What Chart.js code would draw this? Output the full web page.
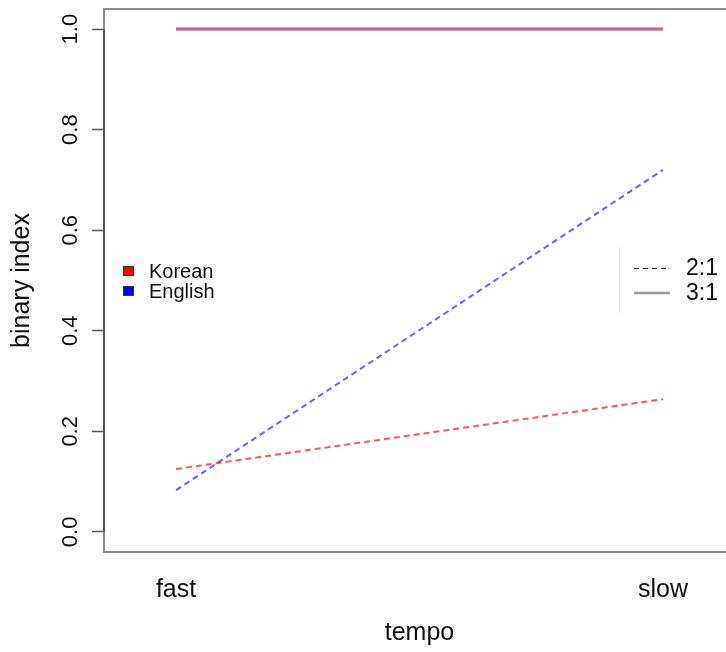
<!DOCTYPE html>
<html lang="en">
<head>
  <meta charset="UTF-8">
  <title>binary index by tempo</title>
  <style>
    html, body { margin: 0; padding: 0; background: #fff; overflow: hidden; }
    #chartBox { width: 745px; height: 652px; }
  </style>
</head>
<body>
<div id="chartBox">
  <canvas id="myChart" width="745" height="652"></canvas>
</div>
<script src="https://cdn.jsdelivr.net/npm/chart.js"></script>
<script>
  // data
  const tempoLabels = ['fast', 'slow'];
  const tempoPos = [1, 2];
  const korean21 = [0.125, 0.264];
  const english21 = [0.083, 0.720];
  const korean31 = [1.0, 1.0];
  const english31 = [1.0, 1.0];
  const yTicks = [0, 0.2, 0.4, 0.6, 0.8, 1.0];

  const FONT = '"Liberation Sans", Arial, sans-serif';

  function points(vals) {
    return vals.map((v, i) => ({ x: tempoPos[i], y: v }));
  }

  // box, y axis line and the two legends (R style)
  const boxPlugin = {
    id: 'boxPlugin',
    afterDraw(chart) {
      const c = chart.ctx;
      const a = chart.chartArea;
      const ys = chart.scales.y;
      c.save();
      c.strokeStyle = '#8a8a8a';
      c.lineWidth = 2;
      c.strokeRect(a.left, a.top, a.right - a.left, a.bottom - a.top);
      // axis line 0..1
      c.strokeStyle = '#555';
      c.beginPath();
      c.moveTo(a.left, ys.getPixelForValue(yTicks[0]));
      c.lineTo(a.left, ys.getPixelForValue(yTicks[yTicks.length - 1]));
      c.stroke();

      // language legend
      c.font = '20px ' + FONT;
      c.textBaseline = 'middle';
      c.textAlign = 'left';
      const lang = [['Korean', '#ff0000', 271], ['English', '#0000ff', 291]];
      lang.forEach(l => {
        c.fillStyle = l[1];
        c.fillRect(123, l[2] - 5, 11, 10);
        c.strokeStyle = '#333';
        c.lineWidth = 1;
        c.strokeRect(123.5, l[2] - 4.5, 10, 9);
        c.fillStyle = '#111';
        c.fillText(l[0], 149, l[2] + 1);
      });

      // ratio legend
      c.strokeStyle = '#e4e4e4';
      c.lineWidth = 1;
      c.beginPath();
      c.moveTo(619.5, 247);
      c.lineTo(619.5, 313);
      c.stroke();
      c.strokeStyle = '#222';
      c.lineWidth = 1;
      c.setLineDash([5, 4]);
      c.beginPath();
      c.moveTo(634, 268.5);
      c.lineTo(670, 268.5);
      c.stroke();
      c.setLineDash([]);
      c.strokeStyle = '#999';
      c.lineWidth = 2.5;
      c.beginPath();
      c.moveTo(634, 293);
      c.lineTo(670, 293);
      c.stroke();
      c.font = '23px ' + FONT;
      c.fillStyle = '#111';
      c.fillText('2:1', 686, 269);
      c.fillText('3:1', 686, 294);
      c.restore();
    }
  };

  const ctx = document.getElementById('myChart');

  // first dataset is drawn on top
  const myChart = new Chart(ctx, {
    type: 'line',
    data: {
      datasets: [
        {
          label: 'Korean 3:1',
          data: points(korean31),
          borderColor: 'rgba(255,0,0,0.45)',
          borderWidth: 3,
          pointRadius: 0
        },
        {
          label: 'English 3:1',
          data: points(english31),
          borderColor: 'rgba(0,0,255,0.35)',
          borderWidth: 3,
          pointRadius: 0
        },
        {
          label: 'Korean 2:1',
          data: points(korean21),
          borderColor: 'rgba(255,0,0,0.65)',
          borderWidth: 2,
          borderDash: [6, 4],
          pointRadius: 0
        },
        {
          label: 'English 2:1',
          data: points(english21),
          borderColor: 'rgba(0,0,255,0.6)',
          borderWidth: 2,
          borderDash: [6, 4],
          pointRadius: 0
        }
      ]
    },
    options: {
      responsive: false,
      maintainAspectRatio: false,
      animation: { duration: 0 },
      layout: { padding: { top: 9, right: 10, left: 0, bottom: 0 } },
      plugins: {
        legend: { display: false },
        tooltip: { enabled: false }
      },
      scales: {
        x: {
          type: 'linear',
          min: 0.852,
          max: 2.148,
          afterBuildTicks: (s) => { s.ticks = tempoPos.map(v => ({ value: v })); },
          afterFit: (s) => { s.height = 100; s.paddingLeft = 0; s.paddingRight = 0; },
          grid: { display: false },
          border: { display: false },
          ticks: {
            autoSkip: false,
            maxRotation: 0,
            padding: 15,
            color: '#111',
            font: { family: FONT, size: 25 },
            callback: (v) => tempoLabels[tempoPos.indexOf(v)]
          },
          title: {
            display: true,
            text: 'tempo',
            color: '#111',
            font: { family: FONT, size: 25 },
            padding: { top: 0, bottom: 4 }
          }
        },
        y: {
          min: -0.04,
          max: 1.04,
          afterBuildTicks: (s) => { s.ticks = yTicks.map(v => ({ value: v })); },
          afterFit: (s) => { s.width = 104; s.paddingTop = 0; s.paddingBottom = 0; },
          grid: {
            drawOnChartArea: false,
            drawTicks: true,
            tickLength: 12,
            tickColor: '#555',
            tickWidth: 1.5
          },
          border: { display: false },
          ticks: {
            autoSkip: false,
            minRotation: 90,
            maxRotation: 90,
            crossAlign: 'center',
            padding: 6,
            color: '#111',
            font: { family: FONT, size: 22 },
            callback: (v) => v.toFixed(1)
          },
          title: {
            display: true,
            text: 'binary index',
            color: '#111',
            font: { family: FONT, size: 25 },
            padding: { top: 7, bottom: 0 }
          }
        }
      }
    },
    plugins: [boxPlugin]
  });
</script>
</body>
</html>
